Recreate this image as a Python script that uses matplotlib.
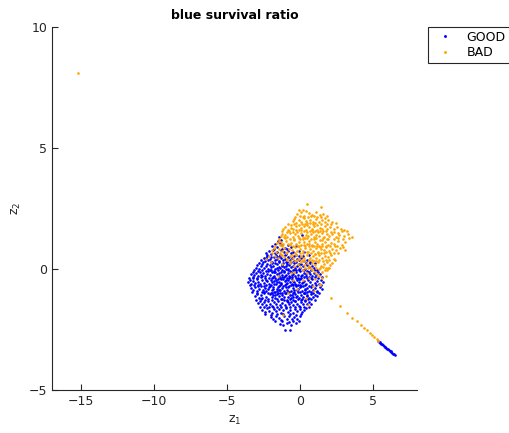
import numpy as np
import matplotlib
matplotlib.use("Agg")
import matplotlib.pyplot as plt

# GOOD (blue) samples
good_pts = [
    (-1.45, 1.32), (-1.3, 1.22), (-1.52, 1.15),
    (-1.95, 0.95), (-1.7, 1.05), (-1.55, 0.92), (-1.38, 1.08), (-1.2, 0.98), (-1.05, 0.88), (-0.85, 1.02),
    (-0.6, 0.93), (-1.8, 0.85), (-1.25, 0.84),
    (-2.35, 0.68), (-2.15, 0.75), (-2.0, 0.62), (-1.85, 0.78), (-1.7, 0.66), (-1.55, 0.72), (-1.4, 0.6),
    (-1.3, 0.8), (-1.1, 0.7), (-0.95, 0.62), (-0.8, 0.76), (-0.65, 0.66), (-0.45, 0.72), (-0.25, 0.6),
    (-0.05, 0.75), (-1.62, 0.58), (-2.25, 0.57), (-0.9, 0.82),
    (-2.65, 0.38), (-2.5, 0.45), (-2.4, 0.33), (-2.3, 0.48), (-2.18, 0.36), (-2.05, 0.42), (-1.92, 0.3),
    (-1.8, 0.5), (-1.68, 0.38), (-1.55, 0.44), (-1.42, 0.32), (-1.3, 0.47), (-1.18, 0.36), (-1.05, 0.43),
    (-0.92, 0.3), (-0.8, 0.5), (-0.66, 0.38), (-0.52, 0.45), (-0.38, 0.33), (-0.22, 0.42), (-0.08, 0.36),
    (0.1, 0.46), (0.28, 0.34), (0.45, 0.4), (-1.5, 0.52), (-0.6, 0.28),
    (-3.0, 0.05), (-2.92, 0.16), (-2.83, 0.02), (-2.7, 0.12), (-2.58, 0.2), (-2.46, 0.06), (-2.33, 0.14),
    (-2.2, 0.0), (-2.08, 0.18), (-1.96, 0.08), (-1.84, 0.15), (-1.72, 0.02), (-1.6, 0.2), (-1.47, 0.1),
    (-1.35, 0.04), (-1.22, 0.17), (-1.1, 0.08), (-0.98, 0.14), (-0.85, 0.0), (-0.72, 0.19), (-0.6, 0.09),
    (-0.47, 0.15), (-0.35, 0.03), (-0.22, 0.12), (-0.1, 0.2), (0.03, 0.06), (0.18, 0.14), (0.32, 0.02),
    (0.48, 0.18), (0.62, 0.08), (0.8, 0.12), (0.97, 0.04), (-1.9, 0.24), (-1.15, 0.25), (-0.4, 0.24),
    (-3.38, -0.2), (-3.25, -0.12), (-3.12, -0.26), (-3.0, -0.15), (-2.88, -0.28), (-2.76, -0.1),
    (-2.64, -0.22), (-2.52, -0.14), (-2.4, -0.3), (-2.28, -0.18), (-2.16, -0.08), (-2.04, -0.24),
    (-1.92, -0.13), (-1.8, -0.27), (-1.68, -0.1), (-1.56, -0.2), (-1.44, -0.29), (-1.32, -0.12),
    (-1.2, -0.22), (-1.08, -0.08), (-0.96, -0.26), (-0.84, -0.16), (-0.72, -0.3), (-0.6, -0.1),
    (-0.48, -0.2), (-0.36, -0.27), (-0.24, -0.13), (-0.12, -0.22), (0.0, -0.08), (0.13, -0.25),
    (0.26, -0.15), (0.4, -0.28), (0.54, -0.1), (0.68, -0.2), (0.82, -0.3), (0.96, -0.14), (1.1, -0.24),
    (1.25, -0.12), (1.38, -0.2), (-2.0, -0.05), (-1.1, -0.33), (-0.3, -0.04), (0.6, -0.33),
    (-3.58, -0.55), (-3.46, -0.44), (-3.34, -0.6), (-3.22, -0.48), (-3.1, -0.58), (-2.98, -0.4),
    (-2.86, -0.53), (-2.74, -0.62), (-2.62, -0.45), (-2.5, -0.56), (-2.38, -0.38), (-2.26, -0.5),
    (-2.14, -0.6), (-2.02, -0.43), (-1.9, -0.55), (-1.78, -0.47), (-1.66, -0.62), (-1.54, -0.4),
    (-1.42, -0.52), (-1.3, -0.58), (-1.18, -0.42), (-1.06, -0.5), (-0.94, -0.61), (-0.82, -0.44),
    (-0.7, -0.55), (-0.58, -0.39), (-0.46, -0.5), (-0.34, -0.6), (-0.22, -0.46), (-0.1, -0.54),
    (0.02, -0.41), (0.15, -0.58), (0.28, -0.48), (0.42, -0.62), (0.56, -0.43), (0.7, -0.53),
    (0.85, -0.4), (1.0, -0.57), (1.15, -0.47), (1.3, -0.6), (1.45, -0.44), (1.58, -0.52),
    (-1.7, -0.36), (-0.9, -0.35), (0.1, -0.35),
    (-3.35, -0.78), (-3.2, -0.86), (-3.05, -0.72), (-2.92, -0.9), (-2.8, -0.8), (-2.66, -0.7),
    (-2.54, -0.88), (-2.42, -0.76), (-2.3, -0.92), (-2.18, -0.82), (-2.06, -0.7), (-1.94, -0.86),
    (-1.82, -0.75), (-1.7, -0.93), (-1.58, -0.8), (-1.46, -0.68), (-1.34, -0.87), (-1.22, -0.77),
    (-1.1, -0.91), (-0.98, -0.72), (-0.86, -0.84), (-0.74, -0.69), (-0.62, -0.89), (-0.5, -0.78),
    (-0.38, -0.93), (-0.26, -0.71), (-0.14, -0.83), (-0.02, -0.75), (0.11, -0.9), (0.24, -0.7),
    (0.37, -0.85), (0.5, -0.76), (0.64, -0.92), (0.78, -0.72), (0.92, -0.84), (1.06, -0.77),
    (1.2, -0.9), (1.35, -0.74), (1.48, -0.82), (-2.6, -0.96), (-1.5, -0.97), (-0.45, -0.66), (0.3, -0.97),
    (-3.08, -1.1), (-2.95, -1.02), (-2.82, -1.18), (-2.7, -1.06), (-2.58, -1.2), (-2.45, -1.0),
    (-2.33, -1.13), (-2.2, -1.22), (-2.08, -1.04), (-1.95, -1.15), (-1.82, -1.08), (-1.7, -1.2),
    (-1.57, -1.01), (-1.45, -1.12), (-1.32, -1.23), (-1.2, -1.05), (-1.07, -1.16), (-0.95, -1.0),
    (-0.82, -1.14), (-0.7, -1.22), (-0.57, -1.06), (-0.45, -1.17), (-0.32, -1.02), (-0.2, -1.12),
    (-0.07, -1.2), (0.06, -1.05), (0.2, -1.16), (0.34, -1.0), (0.48, -1.1), (0.62, -1.2),
    (0.76, -1.04), (0.9, -1.14), (1.05, -1.06), (1.18, -1.12), (-1.9, -1.26), (-0.9, -1.27), (0.1, -1.27),
    (-2.88, -1.4), (-2.74, -1.32), (-2.6, -1.46), (-2.46, -1.36), (-2.32, -1.5), (-2.18, -1.3),
    (-2.04, -1.42), (-1.9, -1.52), (-1.76, -1.35), (-1.62, -1.45), (-1.48, -1.3), (-1.34, -1.48),
    (-1.2, -1.38), (-1.06, -1.5), (-0.92, -1.33), (-0.78, -1.44), (-0.64, -1.36), (-0.5, -1.5),
    (-0.36, -1.32), (-0.22, -1.43), (-0.08, -1.52), (0.06, -1.37), (0.2, -1.46), (0.35, -1.33),
    (0.5, -1.42), (0.65, -1.35), (0.78, -1.45), (-1.55, -1.56), (-0.7, -1.56),
    (-2.58, -1.68), (-2.42, -1.76), (-2.26, -1.62), (-2.1, -1.72), (-1.94, -1.8), (-1.78, -1.64),
    (-1.62, -1.74), (-1.46, -1.66), (-1.3, -1.8), (-1.14, -1.7), (-0.98, -1.62), (-0.82, -1.76),
    (-0.66, -1.68), (-0.5, -1.8), (-0.34, -1.64), (-0.18, -1.74), (-0.02, -1.66), (0.14, -1.78),
    (0.28, -1.68), (0.4, -1.6),
    (-2.0, -1.98), (-1.82, -2.06), (-1.64, -1.92), (-1.46, -2.02), (-1.28, -2.1), (-1.1, -1.95),
    (-0.92, -2.04), (-0.74, -1.92), (-0.56, -2.08), (-0.38, -1.98), (-0.2, -2.05), (-0.02, -1.94),
    (-1.4, -2.25), (-1.15, -2.32), (-0.9, -2.22), (-0.6, -2.3), (-0.3, -2.24),
    (-1.0, -2.5), (-0.68, -2.53),
    # half bands
    (-2.28, 0.55), (-1.98, 0.52), (-1.66, 0.55), (-1.36, 0.53), (-1.02, 0.57), (-0.72, 0.52),
    (-0.38, 0.55), (-0.05, 0.53), (0.2, 0.56),
    (-2.78, 0.26), (-2.52, 0.3), (-2.26, 0.22), (-2.0, 0.28), (-1.74, 0.25), (-1.46, 0.3), (-1.2, 0.23),
    (-0.94, 0.28), (-0.66, 0.24), (-0.28, 0.29), (0.05, 0.22), (0.38, 0.27), (0.72, 0.24),
    (-3.18, -0.04), (-2.9, -0.06), (-2.62, -0.02), (-2.34, -0.07), (-2.06, -0.03), (-1.76, -0.06),
    (-1.5, -0.02), (-1.22, -0.05), (-0.96, -0.01), (-0.66, -0.06), (-0.4, -0.03), (-0.06, -0.05),
    (0.22, -0.02), (0.48, -0.06), (0.76, -0.03), (1.05, -0.05), (1.2, -0.02),
    (-3.5, -0.36), (-3.22, -0.32), (-2.94, -0.37), (-2.66, -0.34), (-2.14, -0.36), (-1.86, -0.32),
    (-1.38, -0.37), (-1.22, -0.33), (-0.78, -0.37), (-0.56, -0.33), (-0.14, -0.36), (0.3, -0.33),
    (0.74, -0.36), (1.0, -0.33), (1.22, -0.37), (1.5, -0.34),
    (-3.44, -0.66), (-3.12, -0.64), (-2.88, -0.68), (-2.36, -0.64), (-1.98, -0.67), (-1.36, -0.65),
    (-1.02, -0.67), (-0.64, -0.64), (-0.28, -0.66), (0.02, -0.64), (0.34, -0.67), (0.8, -0.64),
    (1.1, -0.66), (1.42, -0.65),
    (-3.26, -0.96), (-2.96, -0.98), (-2.44, -0.95), (-2.02, -0.97), (-1.78, -0.95), (-1.2, -0.97),
    (-0.84, -0.95), (-0.5, -0.98), (-0.12, -0.96), (0.46, -0.95), (0.86, -0.97), (1.14, -0.95),
    (1.32, -0.98),
    (-3.0, -1.26), (-2.64, -1.25), (-2.38, -1.28), (-1.56, -1.25), (-1.1, -1.28), (-0.46, -1.26),
    (-0.16, -1.25), (0.36, -1.27), (0.76, -1.25), (1.0, -1.28),
    (-2.76, -1.55), (-2.46, -1.57), (-2.14, -1.55), (-1.84, -1.58), (-1.28, -1.55), (-0.98, -1.57),
    (-0.34, -1.56), (0.0, -1.58), (0.28, -1.55), (0.6, -1.57),
    (-2.4, -1.86), (-2.02, -1.88), (-1.56, -1.85), (-1.18, -1.87), (-0.7, -1.86), (-0.3, -1.88),
    (0.06, -1.86),
    (-1.7, -2.16), (-1.2, -2.14), (-0.78, -2.17), (-0.45, -2.14), (-0.1, -2.16),
    # dense core
    (-1.9, -0.35), (-1.75, -0.62), (-1.6, -0.9), (-1.45, -0.15), (-1.3, -0.42), (-1.15, -0.7),
    (-1.0, -0.98), (-0.85, -0.05), (-0.7, -0.32), (-0.55, -0.6), (-0.4, -0.88), (-0.25, -1.15),
    (-0.1, 0.0), (0.05, -0.28), (0.2, -0.55), (0.35, -0.82), (0.5, -1.05), (0.65, -0.1),
    (-1.95, -1.0), (-1.8, -0.12), (-1.65, -0.45), (-1.5, -0.72), (-1.35, -1.0), (-1.2, -1.25),
    (-1.05, -0.3), (-0.9, -0.58), (-0.75, -0.95), (-0.6, -1.2), (-0.45, -0.02), (-0.3, -0.38),
    (-0.15, -0.65), (0.0, -0.95), (0.15, -1.22), (0.3, -0.05), (0.45, -0.35), (0.6, -0.68),
    (0.75, -0.95), (-2.1, -0.75), (-1.88, -0.82), (-1.72, -1.05), (-1.58, -0.55), (-1.42, -0.85),
    (-1.28, -0.6), (-1.12, -0.1), (-0.98, -0.45), (-0.82, -0.72), (-0.68, -1.05), (-0.52, -0.25),
    (-0.38, -0.55), (-0.2, -0.85), (-0.05, -0.42), (0.1, -0.7), (0.25, -1.0), (0.4, -0.2),
    (-1.6, 0.05), (-1.25, 0.12), (-0.9, 0.2), (-2.3, -0.45), (-2.5, -0.7), (-2.2, -1.0),
    (-0.8, -1.35), (-0.35, -1.3), (0.55, -1.25), (-2.6, -0.3), (-2.9, -0.65), (-3.2, -0.35),
    (0.14, 1.4), (0.3, 0.7), (0.7, 0.3), (1.05, 0.25), (-0.3, 0.95), (0.6, 0.6),
    # tail
    (5.35, -2.96), (5.40, -2.99), (5.46, -3.02), (5.52, -3.05), (5.58, -3.08), (5.63, -3.10),
    (5.69, -3.13), (5.75, -3.17), (5.81, -3.20), (5.86, -3.22), (5.92, -3.25), (5.98, -3.28),
    (6.04, -3.31), (6.10, -3.34), (6.15, -3.37), (6.21, -3.40), (6.27, -3.43), (6.33, -3.46),
    (6.39, -3.49), (6.45, -3.52), (6.50, -3.55),
]

# BAD (orange) samples
bad_pts = [
    (0.5, 2.68), (1.45, 2.57), (0.2, 2.45), (-0.1, 2.44),
    (-0.2, 2.28), (0.05, 2.35), (0.3, 2.2), (0.6, 2.32), (0.85, 2.25), (1.1, 2.38), (1.35, 2.22),
    (1.6, 2.3), (0.4, 2.4),
    (-0.47, 1.98), (-0.4, 2.06), (-0.3, 1.92), (-0.1, 2.04), (0.1, 1.95), (0.3, 2.1), (0.5, 1.9),
    (0.7, 2.02), (0.9, 1.96), (1.1, 2.08), (1.3, 1.93), (1.5, 2.05), (1.7, 1.97), (1.95, 2.05),
    (2.2, 1.94), (0.2, 2.14), (1.2, 2.15),
    (-1.15, 1.68), (-1.0, 1.75), (-0.82, 1.62), (-0.64, 1.72), (-0.46, 1.66), (-0.28, 1.78),
    (-0.1, 1.64), (0.08, 1.7), (0.26, 1.8), (0.44, 1.63), (0.62, 1.74), (0.8, 1.66), (0.98, 1.78),
    (1.16, 1.62), (1.34, 1.72), (1.52, 1.68), (1.7, 1.8), (1.88, 1.65), (2.06, 1.74), (2.3, 1.68),
    (2.55, 1.76), (2.8, 1.66), (0.5, 1.84), (-0.6, 1.82), (3.0, 1.6),
    (-1.3, 1.38), (-1.2, 1.45), (-1.1, 1.32), (-1.0, 1.42), (-0.86, 1.35), (-0.68, 1.48), (-0.5, 1.34),
    (-0.32, 1.44), (-0.14, 1.38), (0.04, 1.5), (0.22, 1.33), (0.4, 1.42), (0.58, 1.36), (0.76, 1.47),
    (0.94, 1.32), (1.12, 1.43), (1.3, 1.37), (1.48, 1.5), (1.66, 1.34), (1.84, 1.44), (2.02, 1.38),
    (2.22, 1.46), (2.45, 1.33), (2.7, 1.42), (3.0, 1.36), (3.3, 1.45), (3.57, 1.33), (0.9, 1.54),
    (-0.2, 1.52),
    (-1.55, 1.08), (-1.45, 1.15), (-1.38, 1.02), (-1.28, 1.12), (-1.16, 1.05), (-0.98, 1.18),
    (-0.8, 1.03), (-0.62, 1.1), (-0.44, 1.2), (-0.26, 1.04), (-0.08, 1.14), (0.1, 1.0), (0.28, 1.12),
    (0.46, 1.06), (0.64, 1.18), (0.82, 1.02), (1.0, 1.12), (1.18, 1.06), (1.36, 1.2), (1.54, 1.04),
    (1.72, 1.14), (1.9, 1.0), (2.1, 1.1), (2.35, 1.05), (2.6, 1.16), (2.9, 1.02), (3.1, 1.13),
    (0.0, 1.24), (1.3, 0.96),
    (-1.9, 0.78), (-1.8, 0.86), (-1.62, 0.72), (-1.44, 0.82), (-1.26, 0.75), (-1.08, 0.88),
    (-0.9, 0.72), (-0.72, 0.84), (-0.54, 0.78), (-0.36, 0.9), (-0.18, 0.74), (0.0, 0.84),
    (0.18, 0.77), (0.36, 0.89), (0.54, 0.72), (0.72, 0.82), (0.9, 0.76), (1.08, 0.88), (1.26, 0.73),
    (1.44, 0.85), (1.62, 0.78), (1.8, 0.9), (2.0, 0.74), (2.2, 0.84), (2.45, 0.78), (2.75, 0.86),
    (3.1, 0.79), (0.6, 0.94), (1.5, 0.95),
    (-2.1, 0.56), (-1.7, 0.55), (-1.5, 0.45), (-1.3, 0.58), (-1.1, 0.5), (-0.9, 0.44), (-0.7, 0.56),
    (-0.5, 0.48), (-0.3, 0.6), (-0.1, 0.44), (0.1, 0.54), (0.3, 0.47), (0.5, 0.6), (0.7, 0.45),
    (0.9, 0.55), (1.1, 0.48), (1.3, 0.6), (1.5, 0.46), (1.7, 0.56), (1.9, 0.5), (2.15, 0.58),
    (2.42, 0.37), (0.2, 0.65), (1.0, 0.64), (-2.3, 0.44),
    (-1.2, 0.2), (-0.7, 0.24), (-0.4, 0.14), (-0.15, 0.22), (0.05, 0.3), (0.25, 0.18), (0.45, 0.26),
    (0.65, 0.14), (0.85, 0.24), (1.05, 0.18), (1.25, 0.28), (1.45, 0.15), (1.65, 0.22), (1.85, 0.3),
    (2.05, 0.17), (2.2, 0.25), (0.95, 0.33), (1.55, 0.34),
    (-0.4, -0.12), (0.2, -0.05), (0.5, -0.14), (0.8, -0.02), (1.05, -0.1), (1.3, 0.0), (1.5, -0.12),
    (1.7, -0.04), (1.85, -0.04), (2.0, 0.05), (1.2, -0.2),
    (0.6, -0.35), (1.0, -0.42), (1.3, -0.3), (1.5, -0.37), (1.8, -0.28), (-0.5, -0.45),
    # half bands
    (-0.35, 2.16), (0.0, 2.2), (0.55, 2.14), (0.78, 2.18), (1.45, 2.16), (1.85, 2.2),
    (-0.85, 1.86), (-0.4, 1.88), (-0.05, 1.84), (0.32, 1.88), (0.88, 1.86), (1.05, 1.9), (1.45, 1.85),
    (1.85, 1.88), (2.15, 1.86), (2.45, 1.9),
    (-1.2, 1.56), (-0.75, 1.58), (-0.45, 1.55), (0.25, 1.57), (0.7, 1.56), (1.05, 1.58), (1.4, 1.56),
    (1.8, 1.58), (2.3, 1.55), (2.85, 1.57), (3.2, 1.56),
    (-1.45, 1.26), (-1.0, 1.28), (-0.7, 1.25), (0.2, 1.26), (0.5, 1.28), (0.95, 1.26), (1.6, 1.28),
    (1.95, 1.25), (2.6, 1.28), (2.95, 1.25), (3.35, 1.27),
    (-1.7, 0.96), (-1.2, 0.94), (-0.5, 0.96), (-0.05, 0.97), (0.35, 0.95), (0.8, 0.97), (1.15, 0.95),
    (1.75, 0.97), (2.05, 0.95), (2.55, 0.97), (2.95, 0.93),
    (-1.95, 0.66), (-1.4, 0.68), (-0.95, 0.66), (-0.35, 0.68), (0.75, 0.67), (1.25, 0.65), (1.65, 0.68),
    (2.05, 0.65), (2.3, 0.68), (2.6, 0.66),
    (-0.9, 0.36), (-0.35, 0.34), (0.15, 0.38), (0.6, 0.36), (1.1, 0.35), (1.75, 0.37), (2.0, 0.4),
    (2.3, 0.42),
    (0.35, 0.06), (0.75, 0.04), (1.4, 0.05), (1.6, 0.08), (1.95, 0.06),
    # core
    (-0.4, 1.25), (-0.15, 0.95), (0.1, 1.6), (0.35, 1.28), (0.6, 1.05), (0.85, 1.6), (1.1, 1.3),
    (1.35, 0.92), (1.6, 1.58), (-0.55, 0.6), (-0.3, 1.62), (0.0, 0.68), (0.25, 1.02), (0.5, 1.52),
    (0.75, 1.25), (1.0, 0.62), (1.25, 1.55), (1.5, 1.2), (1.75, 0.7), (-0.1, 1.3), (0.45, 0.7),
    (0.7, 1.9), (0.95, 0.95), (1.2, 1.82), (1.45, 0.65), (1.85, 1.25), (2.1, 1.55), (2.4, 0.95),
    (-0.7, 1.0), (-0.9, 1.55), (0.15, 1.85), (0.4, 2.0), (0.95, 2.2), (1.7, 2.1), (-0.2, 0.4),
    (0.3, 0.35), (0.8, 0.4), (1.3, 0.38), (1.75, 0.05), (2.3, 1.25), (2.6, 1.5), (-1.2, 0.6),
    (-0.6, 0.35), (0.0, 0.1), (0.55, 0.05), (1.1, 0.05),
    # scattered inside GOOD
    (-0.2, -0.8), (0.4, -1.2), (-1.5, -0.3), (-0.8, -1.0), (0.9, -0.7), (-1.17, -1.9), (0.55, -1.49),
    (0.97, -0.9), (-2.0, 0.3), (0.2, -0.45), (-0.6, -0.15), (1.4, -0.6), (1.38, -0.66),
    # tail and outlier
    (2.14, -1.2), (2.76, -1.53), (3.2, -1.8), (3.6, -2.0), (3.9, -2.15), (4.2, -2.3), (4.4, -2.42),
    (4.6, -2.52), (4.8, -2.62), (4.95, -2.73), (5.1, -2.8), (5.25, -2.88), (5.35, -2.95),
    (-15.2, 8.1),
]

good = np.array(good_pts)
bad = np.array(bad_pts)

fig = plt.figure(figsize=(5.1, 4.33), dpi=100)
ax = fig.add_axes([0.102, 0.099, 0.715, 0.838])

ax.plot(good[:, 0], good[:, 1], 'o', color='#0000ff', markersize=1.9, markeredgewidth=0, label='GOOD')
ax.plot(bad[:, 0], bad[:, 1], 'o', color='#ffa500', markersize=1.9, markeredgewidth=0, label='BAD')

ax.set_xlim(-17, 8)
ax.set_ylim(-5, 10)
ax.set_xticks([-15, -10, -5, 0, 5])
ax.set_yticks([-5, 0, 5, 10])

gray = '#262626'
for s in ['top', 'right']:
    ax.spines[s].set_visible(False)
for s in ['left', 'bottom']:
    ax.spines[s].set_color(gray)
    ax.spines[s].set_linewidth(0.8)
ax.tick_params(direction='in', length=4, width=0.8, colors=gray, labelsize=9)

ax.set_xlabel('z$_1$', fontsize=9, color=gray)
ax.set_ylabel('z$_2$', fontsize=9, color=gray)
ax.set_title('blue survival ratio', fontsize=9, fontweight='bold')

leg = fig.legend(loc='upper left', bbox_to_anchor=(0.839, 0.938), borderaxespad=0, fontsize=9,
                 fancybox=False, edgecolor=gray, framealpha=1, markerscale=1.1,
                 handlelength=2.2, handletextpad=0.6, borderpad=0.3, labelspacing=0.2)
leg.get_frame().set_linewidth(0.8)

fig.savefig('out.png', dpi=100)
